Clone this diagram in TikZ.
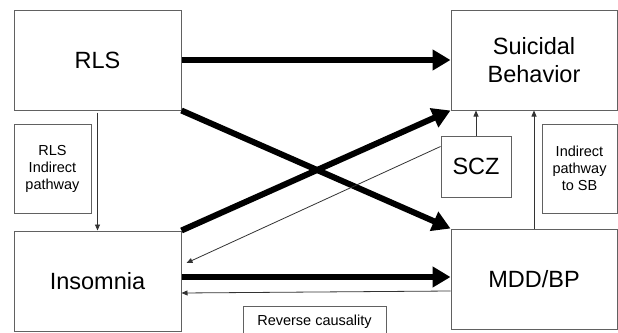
\documentclass[tikz,border=0pt]{standalone}
\usepackage{fontspec}
\setmainfont{Liberation Sans}
\usetikzlibrary{arrows.meta,calc}
\begin{document}
\begin{tikzpicture}[x=1pt,y=-1pt,
  box/.style={draw=black!62, line width=1pt, fill=white, inner sep=0pt, align=center},
  bigbox/.style={box, font=\fontsize{23.5}{28}\selectfont},
  smallbox/.style={box, font=\fontsize{14.5}{17}\selectfont},
  thick arrow/.style={line width=6pt, -{Triangle[length=18pt,width=20pt]}},
  thin arrow/.style={line width=0.8pt, draw=black!80, -{Triangle[length=6pt,width=5pt]}}]
\useasboundingbox (0,0) rectangle (618,332);
\fill[white] (0,0) rectangle (618,332);
\node[bigbox, minimum width=167pt, minimum height=100pt] (rls) at (97.5,60) {RLS};
\node[smallbox, minimum width=77pt, minimum height=89pt] (rlsind) at (52.5,168.5) {RLS\\Indirect\\pathway};
\node[bigbox, minimum width=167pt, minimum height=100pt] (ins) at (97.5,281) {Insomnia};
\node[bigbox, minimum width=166pt, minimum height=100pt] (sb) at (534,60) {Suicidal\\Behavior};
\node[bigbox, minimum width=70pt, minimum height=61pt] (scz) at (476,166.5) {SCZ};
\node[smallbox, minimum width=75pt, minimum height=89pt] (sbind) at (579.5,168.5) {Indirect\\pathway\\to SB};
\node[bigbox, minimum width=166pt, minimum height=100pt] (mdd) at (534,279) {MDD/BP};
\node[smallbox, minimum width=143pt, minimum height=30pt, anchor=north] (rev) at (314.5,306) {Reverse causality};
% thick arrows
\draw[thick arrow] (rls.east) -- (sb.west);
\draw[thick arrow] (rls.south east) -- (mdd.north west);
\draw[thick arrow] (ins.north east) -- (sb.south west);
\draw[thick arrow] ($(ins.east)+(0,-4)$) -- ($(mdd.west)+(0,-2)$);
% thin arrows
\draw[thin arrow] ($(scz.north west)+(0,11)$) -- ($(ins.east)+(5,-18)$);
\draw[thin arrow] ($(mdd.west)+(0,12)$) -- ($(ins.east)+(0,12)$);
\draw[thin arrow, shorten <=2pt] (rls.south) -- (ins.north);
\draw[thin arrow] (scz.north) -- (scz.north |- sb.south);
\draw[thin arrow] (mdd.north) -- (sb.south);
\end{tikzpicture}
\end{document}
